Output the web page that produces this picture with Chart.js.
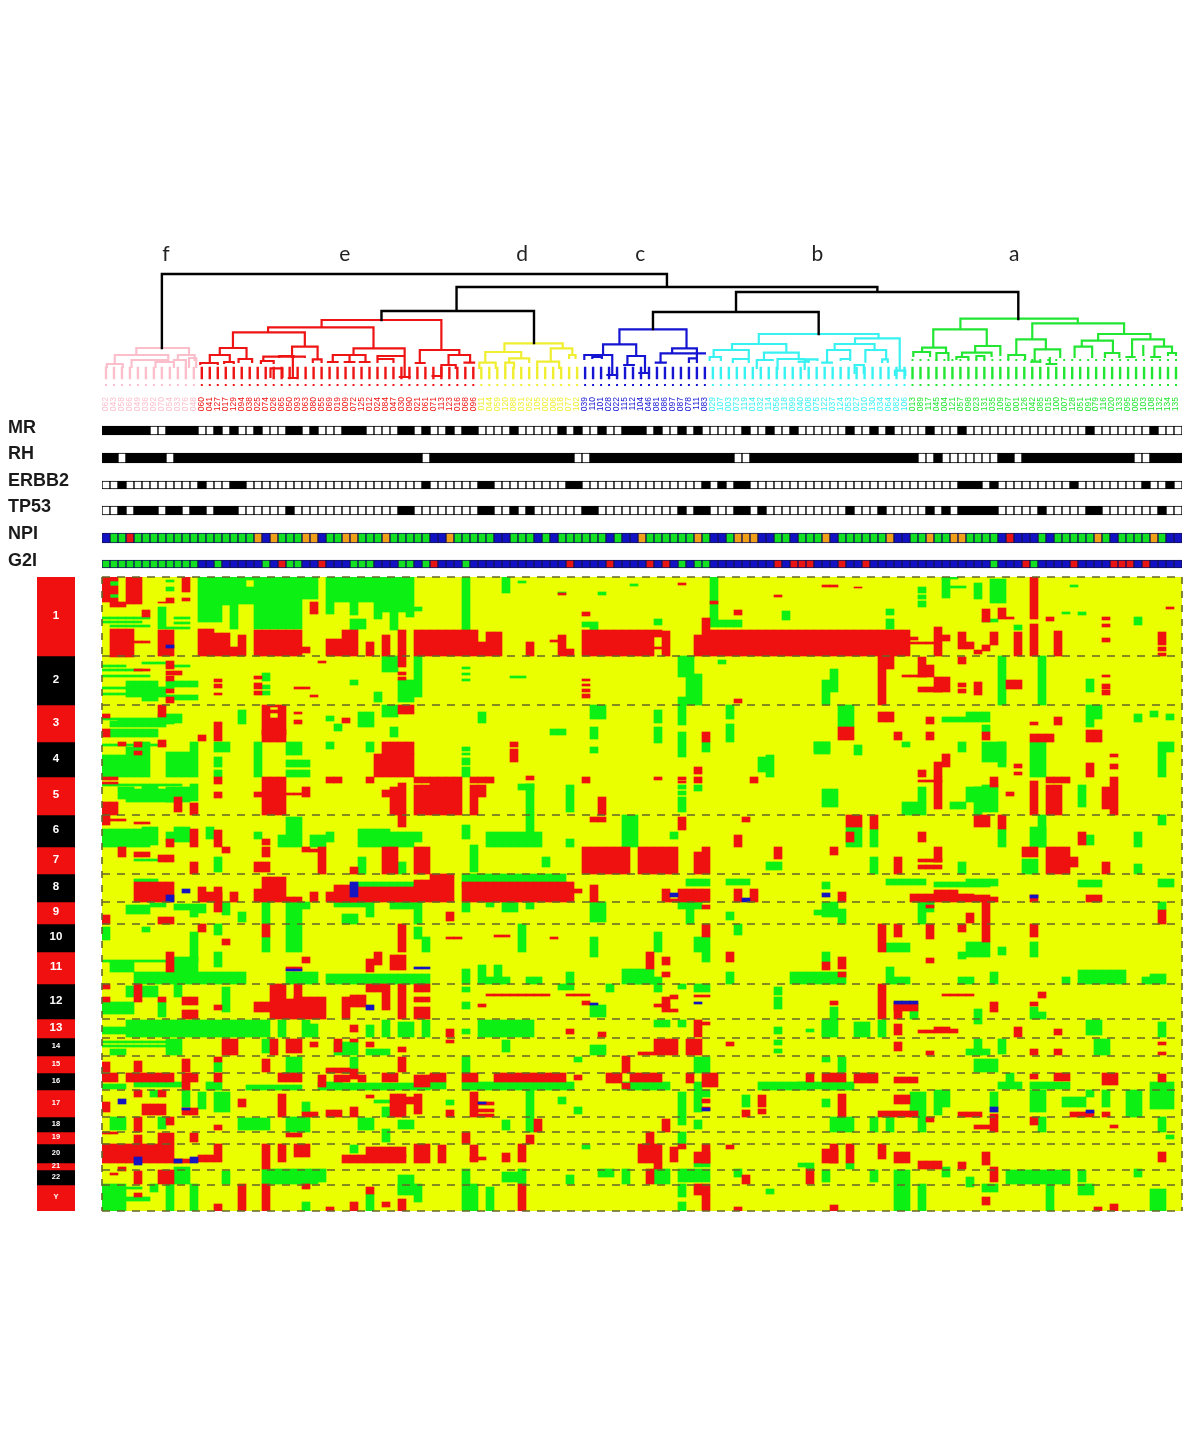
<!DOCTYPE html>
<html>
<head>
<meta charset="utf-8">
<title>Tumour clusters, genome copy number heatmap</title>
<script src="https://cdn.jsdelivr.net/npm/chart.js@4/dist/chart.umd.js"></script>
<style>
  html, body { margin: 0; background: #fff; }
  #page { position: relative; width: 1200px; height: 1447px; overflow: hidden; }
  canvas { position: absolute; display: block; }
</style>
</head>
<body>
<div id="page">
  <canvas id="treeChart" style="left:0;top:240px" width="1184" height="178"></canvas>
  <canvas id="trackChart" style="left:0;top:420px" width="1184" height="152"></canvas>
  <canvas id="chromChart" style="left:37px;top:577px" width="38" height="634"></canvas>
  <canvas id="heatChart" style="left:100px;top:575px" width="1084" height="638"></canvas>
</div>
<script>
// samples in dendrogram order
const sampleIds = ["062","043","058","066","049","036","092","070","054","033","076","048",
  "060","041","127","017","129","094","038","025","074","026","065","050","093","063","080","055","069","019","009","072","125","012","024","084","047","030","090","021","061","071","113","123","016","068","096",
  "011","044","059","120","088","031","052","105","002","006","018","077","102",
  "039","110","101","028","022","115","112","104","046","081","086","097","087","078","111","083",
  "029","107","003","073","119","014","032","114","056","118","099","040","008","075","122","037","124","053","027","010","130","034","064","082","106",
  "013","089","117","045","004","121","057","098","023","131","035","109","067","001","126","042","085","015","100","007","128","051","091","079","116","020","133","095","005","103","108","132","134","135"];
const clusterSizes = [12, 35, 13, 16, 25, 34];
const clusterColors = ["#fbbfcc", "#ee1414", "#f0ee30", "#1414d2", "#38f2f2", "#22e632"];
const clusterLetters = ["f", "e", "d", "c", "b", "a"];
const clusterLetterPos = [8, 30.4, 52.6, 67.4, 89.6, 114.25];

// dendrogram links: [left, right, height, left drop, right drop]
const blackLinks = [[7.5,70.75,121,47,108],[44.4,97.1,108,84,103],[35,54.1,84,75,52],[79.4,114.75,103,83,76],[69,89.75,83,66,61]];
const pinkLinks = [[4.3,10.9,47,40,40],[1.6,8.3,40,31,35],[0.6,2.6,31,28,28],[3.7,8.3,35,28,33],[6.7,9,33,28,28],[9.5,11.6,40,35,35],[9,10.5,35,28,28],[10.9,11.8,37,28,28]];
const redLinks = [[27.5,42.5,75,67.7,45],[20.8,34,67.7,62.7,46.7],[16.4,25.4,62.7,47,48.3],[14.75,18.1,47,40,36],[13.5,16,40,32,33],[12.3,14.5,32,31,31],[15.3,16.5,33,32,32],[17.1,18.8,36,33,33],
  [23.8,27,48.3,38,35.7],[26.4,27.5,35.7,33,33],[20.2,25.4,38.3,34,38],[19.9,21.5,34,32,32],[22.2,24,39,38,38],[23.9,23.9,38,17,17],[23.4,24.4,17,17,17],[21.1,22.6,26.7,18,18],
  [28.9,33,40,33,33],[28.3,29.5,33,33,33],[30.4,31.6,33,33,33],[31,31,40,33,33],[32.3,33.5,33,33,33],[31.5,37.9,46.7,40,39],[34.5,36.5,36,33,33],[34.5,37.9,39,36,39],[37.9,37.9,39,18,18],[37.3,38.5,18,18,18],
  [39.8,44.75,45,32,40],[39.3,40.4,32,32,32],[43.4,46.1,40,30,32.3],[42.5,44.3,30,19,27],[41.4,42.5,19,19,19],[45.4,46.6,32.3,32.3,32.3]];
const yellowLinks = [[50.4,57.7,51.7,43,46.7],[48,52.5,43,32.3,36.7],[47.25,49.3,32.3,27,27],[51,53.5,36.7,32.3,33],[50.5,51.6,32.3,27,27],[56.2,58.9,46.7,33.3,40],[54.5,57.25,33.3,27,27],[58.5,59.3,40,37,37]];
const blueLinks = [[64.8,73.2,65.7,50.7,46.7],[62.75,66.9,50.7,40,39],[60.4,63.9,40,36,36],[61.4,62.6,38,37,37],[63.9,63.9,40,20,20],[63.3,64.5,20,20,20],[65.8,68,39,30,22],[65.4,66.6,30,30,30],[67.3,68.5,22,22,22],
  [71.4,74.5,46.7,41.7,36.7],[69.95,75.5,41.7,32.3,41.7],[69.35,70.6,32.3,32.3,32.3],[73.5,74.5,36.7,33,33]];
const cyanLinks = [[82.25,97.25,61,51,56.7],[78.9,85.7,51,45,42.3],[76.6,81,45,38,36],[76.1,77.5,38,35,35],[79,81,36,33,33],[82.9,87.25,42.3,35,38],[82,84,35,27,35],[84.6,88,36,26,26],[87.25,88.5,33.3,33,33],[88,89.6,35.7,35,35],
  [94.3,99.9,56.7,51,24.3],[91.75,96.75,51,45,45],[90.8,93.7,45,32.3,36],[90.2,91.4,32.3,32.3,32.3],[92.5,93.7,36,35,35],[95.6,98.2,45,33.3,35.7],[94.25,95.4,30,22,22],[97.7,98.4,35.7,33,33],[99.3,100.6,24.3,20,20]];
const greenLinks = [[107.5,122.2,76.3,65.7,71.7],[104.1,110.8,65.7,47.3,49],[102.7,105.7,47.3,43,42],[101.6,103.7,43,39,39],[104.5,106,42,35,35],[109.35,112.5,49,42.3,40],[107.7,111.4,42.3,38,39],[107,108.5,38,36,36],[109.5,110.5,39,36,36],
  [116.5,128,71.7,55.7,61],[114.5,118.2,55.7,40,45.7],[113.5,115.6,40,36,36],[116.8,120,45.7,33.3,38],[116.4,117.5,33.3,33,33],[118.7,118.7,38,31,31],[118.3,119.5,31,31,31],
  [124.75,131.3,61,54.3,55.7],[122.7,126.6,54.3,48.3,42],[121.8,124,48.3,38,38],[125.6,127.4,42,38,38],[129,133,55.7,38,48.3],[128.3,129.3,38,38,38],[131.8,134,48.3,38,42],[131.4,132.5,38,38,38],[133.5,134.5,42,40,40],[130.4,130.4,50,40,40]];
const leafStemRange = [17, 27];
const leafDotHeight = 10;
const upperDotHeight = 35;
const upperDotCluster = 5;

// annotation tracks, black or coded cells per sample
const trackNames = ["MR", "RH", "ERBB2", "TP53", "NPI", "G2I"];
const trackNameRows = [8, 34, 61, 87, 114, 141];
const trackRows = [[6,15],[33,43],[61,69],[86,95],[113,123],[140,148]];
const mrBlack = [0,1,2,3,4,5,8,9,10,11,14,16,19,23,24,26,30,31,32,37,38,40,43,45,46,51,57,59,62,65,66,67,69,72,74,80,83,86,93,96,98,103,107,123,131];
const rhWhite = [2,8,40,59,60,79,80,102,103,105,106,107,108,109,110,111,114,129,130];
const erbb2Black = [2,12,16,17,40,47,48,58,59,75,77,79,80,107,108,109,111,121,130,133];
const tp53Black = [2,4,5,6,8,9,11,12,14,15,16,23,37,38,47,48,51,53,60,61,72,74,75,79,80,82,93,97,103,105,107,108,109,110,111,117,123,124,132];
// 0 blue, 1 green, 2 orange, 3 red
const npiClass = [0,1,1,3,1,1,1,1,1,1,1,1,1,1,1,1,1,1,1,2,0,2,1,1,1,2,2,0,1,1,2,2,1,1,1,2,1,
  1,1,1,1,0,0,2,1,1,1,1,1,0,0,1,1,1,0,1,0,1,1,1,1,1,1,0,1,0,0,2,1,1,1,1,1,1,2,1,0,0,1,2,2,2,0,0,1,1,0,
  1,1,1,2,0,1,1,1,1,1,1,2,0,0,1,1,2,1,1,2,2,1,1,1,1,0,3,0,0,0,1,0,1,1,1,1,1,2,1,0,1,1,1,1,2,1,0,0];
const g2iClass = [1,1,1,1,1,1,1,1,1,1,1,1,0,0,1,0,0,0,0,0,1,0,3,1,1,0,0,3,0,0,0,1,1,1,0,0,0,
  1,1,0,1,3,0,0,0,1,0,0,0,0,0,0,0,0,0,0,0,0,3,0,0,0,0,3,0,0,0,0,3,0,3,0,1,0,1,1,0,0,0,0,0,0,0,0,3,0,3,
  3,3,0,0,0,3,0,0,3,0,0,0,0,0,0,0,0,0,0,0,0,0,0,0,1,0,0,0,3,1,0,0,0,0,3,0,0,0,0,3,3,3,0,3,0,0,0,0];
const classColors = ["#1212c4", "#12e020", "#f0a018", "#e81414"];

// chromosome strip
const chromNames = ["1","2","3","4","5","6","7","8","9","10","11","12","13","14","15","16","17","18","19","20","21","22","Y"];
const chromSizes = [79,49,37,35,38,32,27,28,22,28,32,35,19,18,17,17,27,15,12,19,7,15,26];
const separatorRows = [0,79,128,238,297,325,347,407,442,461,479,496,513,540,555,567,593,608,634];

// heatmap blocks: [first sample, sample after last, top row, bottom row]
const heatGreen = [
  [1,2,4,9],[1,2,17,21],[7,8,30,52],[8,9,3,5],[8,9,10,14],[0,6,40,42],[0,5,44,46],[1,6,48,50],[9,11,40,42],[9,11,45,47],[8,11,50,52],
  [12,15,0,45],[15,16,0,28],[16,17,0,52],[17,18,0,27],[18,19,10,27],[19,25,0,52],[25,27,0,22],[18,19,0,3],[28,39,0,25],[28,29,25,37],[31,32,25,38],[31,32,42,53],[34,35,25,42],[35,38,25,35],[36,37,35,53],[38,39,25,40],[39,40,30,34],
  [32,33,42,52],[45,46,0,53],[50,51,0,16],[62,63,15,18],[52,53,4,6],[60,62,45,50],[61,62,50,53],[76,77,0,50],[77,80,43,50],[85,86,34,43],[66,67,7,9],[57,58,15,17],[69,70,42,48],
  [105,107,0,2],[105,106,0,21],[106,108,9,11],[109,110,6,22],[111,113,2,26],[102,103,10,16],[102,103,18,22],[102,103,24,30],[121,122,8,10],[98,99,32,38],[98,99,42,52],[120,121,35,37],[122,123,35,38],[129,130,40,48],[114,115,48,53],[110,112,42,45],
  [0,5,92,94],[0,6,98,100],[3,7,104,110],[0,9,110,112],[3,8,112,120],[0,3,116,118],[5,7,120,124],[8,12,104,110],[8,12,118,123],[5,8,85,87],[8,11,88,90],[0,3,88,90],[20,21,96,104],[20,21,108,112],[20,21,114,118],
  [35,37,79,95],[37,39,103,125],[39,40,79,120],[34,35,115,125],[31,32,103,108],[72,74,79,100],[72,74,120,128],[74,75,97,128],[73,74,100,120],[90,91,103,128],[91,92,92,115],[77,78,83,87],[112,113,79,128],[117,118,79,128],[123,124,102,115],[45,46,90,92],[45,46,96,98],[45,46,102,104],[51,53,99,101],
  [0,8,141,143],[1,8,144,150],[2,9,143,147],[7,10,137,146],[1,7,152,160],[17,18,133,147],[28,29,139,144],[29,30,147,154],[32,34,135,150],[35,37,128,140],[36,37,150,160],
  [0,3,178,200],[4,6,165,200],[8,11,175,200],[11,12,165,200],[14,16,165,175],[14,15,180,190],[14,15,193,200],[19,20,165,200],[23,25,165,178],[23,26,183,190],[23,26,193,200],[28,29,165,172],[33,34,165,175],[3,4,170,200],[0,8,167,169],
  [0,10,207,209],[5,7,209,222],[2,4,210,222],[3,9,212,225],[8,11,210,225],[11,12,207,224],[45,46,170,174],[45,46,176,178],[45,46,181,188],[45,46,190,200],[61,63,128,142],[61,62,150,162],[61,62,170,176],[69,70,133,146],[69,70,150,166],[72,73,128,148],[72,73,155,180],[75,76,165,175],[78,79,128,142],[78,79,147,165],[89,91,165,175],[83,84,178,200],[82,83,180,195],[56,58,152,158],[47,48,135,146],
  [92,94,128,150],[89,91,165,177],[94,95,168,178],[90,92,212,230],[100,101,165,170],[108,111,135,145],[105,108,140,145],[110,113,165,185],[112,113,165,190],[110,111,148,155],[107,108,165,175],[116,118,165,200],[132,133,165,200],[133,134,165,175],[123,125,128,142],[123,124,142,150],[129,130,137,145],[131,132,134,140],[133,134,137,143],
  [100,103,225,238],[102,103,210,225],[108,110,210,225],[110,112,208,235],[109,110,210,238],[106,108,225,232],[122,123,208,230],[53,54,207,238],[52,54,207,213],[58,59,208,235],[72,73,208,212],[72,73,214,218],[72,73,220,235],[74,75,208,214],
  [0,6,252,270],[5,7,250,268],[8,11,255,265],[9,11,250,256],[13,14,250,262],[19,20,255,262],[23,25,240,258],[22,25,258,270],[26,28,258,270],[28,29,255,265],[32,36,252,270],[36,39,255,270],[39,40,255,265],[4,7,282,284],[14,15,280,295],[32,33,280,297],[37,38,285,297],
  [65,67,238,270],[45,46,248,262],[46,47,268,295],[48,53,255,270],[53,54,238,265],[53,55,255,270],[71,72,255,262],[58,59,262,270],[55,56,280,290],[83,85,285,293],[93,95,250,270],[96,97,252,270],[112,113,252,270],[117,118,238,270],[116,118,250,270],[115,117,282,297],[96,97,280,297],[107,108,285,297],[129,130,287,297],[123,124,258,268],[129,130,255,270],[132,133,238,248],
  [45,58,297,310],[4,7,302,305],[32,41,305,311],[73,76,302,309],[78,81,302,308],[90,91,305,312],[98,103,302,308],[104,111,305,310],[108,112,302,309],[122,125,303,310],[132,134,302,310],
  [3,6,328,337],[6,8,326,330],[9,11,327,333],[11,12,327,340],[12,13,327,336],[15,16,326,338],[17,18,335,345],[20,21,325,347],[23,25,325,347],[25,26,325,332],[29,33,325,330],[33,34,325,340],[30,32,337,347],[36,39,325,332],[39,40,325,347],
  [45,46,326,335],[50,52,325,335],[48,49,325,330],[53,54,325,332],[61,63,325,345],[72,75,325,332],[73,74,332,347],[78,79,335,343],[89,90,333,338],[90,92,325,340],[92,93,332,347],[102,104,325,335],[102,103,335,347],[132,133,325,333],
  [0,1,350,363],[5,6,350,355],[11,12,355,385],[14,15,347,358],[14,15,375,390],[20,21,360,375],[23,25,347,375],[9,12,380,395],[9,18,395,407],[1,4,385,395],[4,9,395,407],[0,9,383,385],[23,27,395,407],[28,41,397,407],[39,40,350,362],[40,41,360,375],
  [52,53,347,375],[45,46,392,407],[47,48,388,407],[48,50,400,407],[49,50,388,407],[50,51,400,407],[61,62,360,380],[65,69,392,407],[66,70,400,407],[69,70,355,375],[58,59,395,407],[53,55,400,407],[74,76,360,375],[75,76,375,385],[78,79,395,407],[79,80,347,358],[86,93,395,407],[90,91,375,385],
  [98,101,366,375],[98,99,390,407],[99,101,400,407],[108,111,365,380],[107,108,375,382],[107,109,400,407],[111,112,395,407],[116,117,365,380],[112,113,370,378],[122,128,393,407],[120,121,400,407],[130,131,400,407],[131,133,397,407],
  [0,4,425,437],[3,7,409,420],[7,8,425,440],[9,10,407,420],[15,16,410,435],[3,21,443,460],[0,3,450,457],[22,23,443,460],[25,26,443,460],[26,27,447,460],[33,34,448,460],[35,36,443,460],[37,39,445,460],[40,41,443,460],
  [45,46,410,415],[45,46,425,432],[57,59,407,413],[63,64,407,415],[61,63,428,440],[69,70,407,415],[72,73,407,412],[74,76,407,415],[84,85,420,432],[84,85,410,418],[47,54,443,460],[45,46,452,457],[69,71,443,450],[72,73,443,450],[90,91,443,460],[84,85,450,457],[88,89,452,455],
  [101,102,427,442],[91,92,430,443],[90,92,443,460],[94,96,445,460],[97,98,443,460],[109,110,432,447],[123,125,443,458],[132,133,445,460],[116,117,430,442],[117,118,435,442],
  [0,9,464,466],[0,9,468,470],[1,3,472,478],[8,10,462,478],[20,21,462,476],[29,32,465,478],[33,36,472,478],[14,15,485,495],[23,25,480,496],[31,32,480,492],[45,46,479,496],[50,51,463,475],[61,63,468,478],[74,76,480,496],[84,85,463,468],[84,85,472,476],[59,60,480,485],
  [109,110,462,478],[108,111,472,478],[112,113,462,477],[124,126,462,478],[109,112,482,495],[92,93,480,495],[90,91,480,485],
  [18,25,508,513],[27,30,505,513],[30,41,506,513],[0,3,507,512],[4,10,505,510],[13,15,505,513],[41,43,505,512],[45,59,505,513],[65,71,505,513],[74,75,505,513],[82,89,505,513],[87,90,505,512],[90,94,505,513],[112,115,505,512],[113,114,496,505],[116,121,505,512],[131,134,505,513],
  [6,7,513,520],[10,11,513,530],[12,13,515,532],[14,16,515,535],[25,26,525,535],[34,36,523,526],[35,36,530,540],[43,44,523,528],[53,54,513,555],[57,58,520,527],[59,60,530,537],[72,73,515,540],[74,75,513,535],[75,76,513,520],[80,81,518,530],
  [90,91,522,530],[101,103,515,540],[104,106,513,530],[104,105,530,538],[111,112,515,535],[116,118,513,535],[120,123,520,530],[123,124,513,520],[125,126,513,530],[128,130,513,540],[131,134,513,532],
  [1,3,540,553],[7,8,540,552],[17,21,541,553],[23,26,540,555],[32,34,541,553],[37,39,543,552],[35,36,552,565],[50,51,543,553],[72,73,540,548],[72,73,555,567],[74,75,543,552],
  [91,94,540,555],[96,97,540,555],[98,99,540,555],[102,103,540,555],[117,118,540,555],[132,133,540,555],[133,134,558,562],
  [31,32,568,576],[60,61,568,572],[74,76,586,590],[88,89,586,592],[87,88,586,590],[93,94,586,592],
  [9,11,590,607],[20,27,592,607],[27,28,592,605],[15,16,594,607],[37,39,598,618],[45,46,592,607],[52,53,592,607],[50,52,595,605],[62,64,592,600],[65,66,592,607],[69,71,592,607],[72,76,592,605],[79,80,592,600],[58,59,598,607],
  [90,91,593,605],[113,121,593,607],[122,123,593,605],[99,101,593,634],[96,97,593,605],[108,109,600,610],[105,106,590,600],[129,130,592,600],
  [0,3,607,634],[8,9,607,634],[11,12,607,634],[3,6,620,624],[3,5,610,612],[6,7,607,615],[25,26,625,634],[33,34,617,634],[37,39,607,617],[39,40,607,625],[45,47,607,634],[48,49,610,634],[72,73,607,620],[72,73,625,634],[83,84,612,617],
  [102,103,607,634],[110,112,607,615],[122,124,607,618],[118,119,607,634],[131,133,612,634]
];
const heatRed = [
  [0,1,0,25],[1,2,0,4],[1,2,9,17],[1,2,21,25],[3,5,0,27],[1,3,25,30],[1,4,52,80],[4,6,64,66],[7,9,53,79],[5,6,33,40],[10,11,0,15],[10,11,21,24],[8,9,21,25],[7,9,25,26],
  [12,14,52,79],[14,16,56,79],[16,17,70,79],[17,18,58,79],[26,27,25,37],[19,25,53,79],[25,26,70,76],[28,30,62,79],[30,32,53,79],[33,34,65,79],[35,36,58,79],[37,38,53,79],[39,47,53,79],[47,48,65,79],[48,50,55,79],
  [53,54,65,79],[57,58,58,79],[58,59,72,79],[56,57,63,65],[60,69,53,79],[69,70,53,60],[69,70,70,72],[70,71,54,79],[74,75,58,79],[75,76,41,79],[76,101,53,79],[76,77,24,27],[79,80,33,38],[57,58,16,18],[60,61,35,39],[72,73,6,8],[84,85,18,20],
  [101,102,60,63],[104,105,50,79],[105,106,58,64],[101,104,65,67],[107,108,55,72],[108,109,65,72],[109,110,73,77],[110,111,68,74],[111,112,55,68],[110,111,32,45],[112,113,31,42],[113,114,40,42],[114,115,55,79],[116,117,0,42],[116,117,47,79],[118,119,40,44],[119,120,54,79],[125,126,40,43],[125,126,47,50],[125,126,61,65],[132,133,55,68],[132,133,70,74],[132,133,76,79],[94,95,10,11],[90,92,8,10],[133,134,30,32],
  [8,9,84,92],[8,10,94,98],[8,9,99,104],[8,9,112,116],[8,9,120,126],[14,15,102,105],[14,15,107,111],[14,15,116,118],[19,20,99,102],[19,20,106,112],[19,20,114,118],[37,38,79,90],[37,38,95,98],[37,38,100,103],[4,6,92,94],[24,26,110,112],[26,27,118,120],[27,28,84,86],
  [60,61,102,104],[60,61,107,109],[60,61,112,115],[60,61,117,121],[79,80,122,126],[97,98,79,128],[98,99,79,92],[102,103,80,100],[103,104,88,100],[104,106,100,115],[102,105,110,115],[107,108,80,87],[107,108,106,110],[107,108,112,116],[109,110,105,118],[113,115,103,112],[125,126,98,100],[125,126,107,112],[125,126,113,118],[100,103,98,100],
  [7,8,128,140],[0,1,137,141],[0,1,152,160],[7,8,163,170],[12,13,158,164],[14,15,145,164],[20,21,128,158],[22,23,128,158],[21,22,128,130],[21,22,133,136],[21,22,141,158],[20,23,153,165],[24,25,143,147],[24,25,135,137],[30,31,141,146],[37,39,128,137],[34,39,177,200],[35,39,165,177],
  [2,3,165,169],[4,5,165,170],[4,5,174,178],[51,52,165,170],[51,52,172,185],[75,76,155,165],[92,94,150,163],[97,99,135,145],[99,100,155,163],[103,104,140,147],[103,104,155,163],[110,111,155,163],[116,119,157,165],[116,117,145,148],[119,120,140,148],[105,106,177,190],[104,105,185,200],[102,103,193,200],[114,115,187,191],[114,115,195,198],[123,124,186,200],[126,127,177,180],[126,127,187,192],[123,125,153,165],
  [0,2,200,203],[0,2,205,207],[0,2,225,238],[9,10,220,235],[11,12,226,238],[14,15,200,207],[14,15,215,221],[20,23,200,238],[19,20,215,220],[25,26,210,220],[23,25,216,218],[28,30,200,206],[33,34,200,206],[36,37,210,238],[37,38,206,238],[35,36,213,220],[39,41,208,238],[39,41,200,206],
  [41,45,200,238],[46,49,200,206],[46,47,208,238],[47,48,208,220],[60,61,200,206],[62,63,220,238],[72,73,200,203],[72,73,204,206],[74,75,190,197],[74,75,200,206],[81,82,200,206],[69,70,200,203],[53,54,199,203],
  [116,117,204,238],[118,121,200,206],[118,120,208,238],[125,126,210,232],[126,127,200,238],[104,105,200,232],[111,112,200,210],[113,114,215,219],[102,105,203,205],
  [0,1,238,248],[1,3,242,244],[4,6,245,247],[11,12,252,270],[14,15,253,270],[15,16,270,276],[8,9,262,270],[20,21,262,268],[25,26,270,275],[37,38,238,250],[27,28,270,297],[26,27,272,275],[2,3,270,280],[4,6,275,280],[7,9,278,285],[11,12,285,297],[20,21,270,280],[19,21,285,295],[31,32,290,297],[35,37,270,297],[39,41,270,297],
  [60,66,270,297],[67,72,270,297],[72,73,240,253],[75,76,270,297],[74,75,275,297],[79,80,258,270],[80,81,240,245],[61,63,240,245],[84,85,270,282],[93,95,238,250],[96,97,238,252],[109,111,238,250],[112,113,238,252],[115,117,270,280],[118,121,270,297],[121,122,280,290],[99,100,280,297],[102,105,288,292],[102,105,282,285],[102,103,255,265],[104,105,270,285],[125,126,285,297],[91,92,270,278],[122,123,255,268],[93,94,255,265],
  [41,44,297,325],[45,59,305,325],[4,9,305,325],[12,13,310,325],[13,15,315,325],[14,15,310,325],[16,17,315,325],[19,20,312,325],[20,23,300,325],[23,25,320,325],[26,27,315,325],[28,32,315,325],[29,32,308,325],[32,41,310,325],[39,41,303,310],[61,62,308,325],[59,60,312,316],[70,71,312,325],[71,72,322,325],[72,76,312,325],[79,80,312,325],[81,82,312,325],
  [92,93,315,325],[101,109,317,325],[104,107,313,320],[109,111,318,325],[111,112,320,325],[116,117,318,325],[123,125,318,325],
  [0,1,338,347],[7,9,340,347],[14,15,325,335],[43,44,335,344],[75,76,328,332],[108,109,336,346],[110,111,325,347],[132,133,333,347],[103,104,328,331],
  [12,13,347,355],[15,16,362,368],[20,21,347,360],[8,9,375,395],[25,26,380,386],[23,25,390,393],[34,35,375,388],[36,38,378,393],[37,38,347,375],[33,34,382,395],[68,69,375,392],[70,71,380,388],[70,71,395,400],[75,76,347,360],[78,79,375,385],[92,93,380,392],[92,93,395,400],[90,91,385,393],
  [97,98,347,375],[99,100,347,360],[103,104,347,362],[103,104,381,386],[107,108,347,355],[110,111,347,365],[116,117,347,360],[43,45,360,362],[49,51,358,360],[56,57,360,362],
  [0,1,407,412],[0,1,420,425],[4,5,407,425],[7,8,420,425],[10,12,420,428],[10,12,433,442],[14,15,428,433],[19,22,425,435],[22,23,407,442],[21,22,407,442],[24,25,407,422],[24,28,420,442],[23,24,422,442],[30,31,420,442],[31,33,418,430],[33,35,407,415],[35,36,407,433],[37,38,407,442],[39,41,407,415],[39,41,420,425],[39,41,430,442],
  [48,56,417,419],[47,48,427,430],[60,61,424,428],[69,71,427,430],[70,71,420,435],[71,72,418,422],[71,72,432,435],[74,76,418,420],[58,61,417,419],[97,98,407,442],[99,100,425,442],[99,102,427,434],[91,92,424,428],[111,112,425,435],[117,118,415,421],[116,117,425,429],[105,109,417,419],
  [31,32,448,455],[43,44,452,460],[58,59,452,457],[62,63,455,460],[74,75,443,460],[75,76,445,448],[99,100,447,458],[104,106,450,456],[106,107,452,456],[102,104,453,456],[114,115,450,460],[119,120,452,458],
  [15,17,462,478],[21,22,462,478],[23,25,462,476],[26,27,465,470],[29,30,462,475],[31,32,462,465],[33,34,465,470],[37,38,470,475],[0,1,485,495],[4,5,484,495],[10,11,482,495],[14,15,480,485],[20,21,482,495],[31,32,492,496],[28,31,491,496],[37,38,480,495],
  [43,44,463,466],[69,72,462,478],[73,75,462,478],[67,69,475,478],[65,66,479,496],[78,79,465,469],[99,100,465,474],[103,104,474,478],[116,117,472,478],[119,120,472,478],[132,133,465,468],[132,133,475,478],
  [0,2,496,505],[3,9,496,505],[10,12,496,505],[10,11,505,513],[14,15,496,505],[22,25,496,505],[27,28,498,510],[29,31,498,505],[31,32,495,502],[32,33,498,505],[35,37,496,505],[39,41,498,510],
  [41,43,496,505],[45,47,496,505],[49,58,496,505],[59,60,498,503],[63,65,496,506],[65,66,506,512],[66,70,496,505],[73,74,496,506],[75,77,496,510],[88,89,496,505],[90,93,496,505],[94,97,496,506],[99,102,500,506],[116,117,497,502],[119,121,496,504],[125,127,496,508],[132,133,497,505],
  [0,1,525,535],[4,5,513,520],[5,8,527,538],[7,8,513,520],[10,12,531,538],[17,18,522,530],[22,23,517,540],[25,27,535,540],[28,30,533,540],[31,32,530,540],[33,34,518,521],[36,38,517,540],[38,39,520,527],[39,40,517,537],
  [46,47,515,540],[43,44,533,540],[47,49,525,528],[47,49,532,535],[47,49,537,540],[75,76,522,526],[75,76,530,533],[80,81,533,540],[82,83,518,530],[82,83,532,537],[92,93,517,540],[99,101,518,527],[97,102,534,540],[107,110,535,540],[111,112,537,540],[121,124,535,540],[125,126,535,540],
  [4,5,540,555],[8,9,540,548],[14,15,548,553],[4,5,558,567],[0,2,555,557],[7,9,556,567],[11,12,556,565],[23,25,556,560],[54,55,542,555],[53,54,558,567],[70,71,542,555],[68,69,555,567],[45,46,555,567],[103,104,540,545],[111,112,540,555],[109,111,548,552],[116,117,540,548],[126,127,548,551],
  [0,9,567,586],[9,11,582,586],[12,14,578,585],[14,15,567,585],[20,21,567,592],[22,23,567,585],[24,26,567,580],[30,38,578,586],[33,38,570,580],[39,41,567,586],[7,9,593,607],[4,5,594,607],[1,2,596,598],[2,3,590,594],
  [42,43,568,586],[46,47,568,585],[46,48,580,583],[50,51,576,585],[52,53,567,585],[67,70,567,586],[71,72,570,585],[72,73,567,572],[74,76,575,586],[75,76,567,586],[69,70,586,592],[78,79,568,572],[68,69,592,607],[80,81,598,607],[88,89,592,607],
  [90,92,572,586],[91,92,567,586],[93,94,567,586],[97,98,567,582],[99,101,575,586],[102,105,584,592],[107,108,585,592],[110,111,575,588],[111,112,590,605],[132,133,575,585],
  [4,5,616,620],[17,18,607,634],[20,21,607,634],[25,26,607,612],[14,15,627,634],[28,29,630,634],[31,32,625,634],[33,34,610,617],[35,36,625,630],[37,38,622,634],[52,53,607,634],[74,76,607,618],[75,76,618,634],[79,80,630,634],[110,111,620,628],[91,92,628,634],[124,125,630,634],[126,127,627,634]
];
const heatBlue = [[8,9,68,71],[10,11,312,316],[8,9,318,325],[31,32,305,320],[71,72,316,320],[80,81,321,325],[90,91,316,320],[116,117,318,321],[39,41,390,392],[23,25,392,394],[33,34,428,433],[61,62,426,428],[74,75,425,427],[99,102,424,427],[2,3,522,527],[10,11,531,533],[47,48,525,527],[75,76,531,534],[111,112,530,535],[123,124,533,536],[4,5,580,588],[9,10,582,586],[11,12,580,586]];

const sampleLabels = sampleIds.map((id, i) => i + ":" + id);
const sampleCount = sampleIds.length;
const rowCount = chromSizes.reduce((a, b) => a + b, 0);

function clusterOf(s) {
  let end = 0;
  for (let c = 0; c < clusterSizes.length; c++) {
    end += clusterSizes[c];
    if (s < end) return c;
  }
  return clusterSizes.length - 1;
}

function linkPath(links) {
  const pts = [];
  links.forEach(l => {
    pts.push({x: l[0], y: l[3]}, {x: l[0], y: l[2]}, {x: l[1], y: l[2]}, {x: l[1], y: l[4]}, {x: l[1], y: NaN});
  });
  return pts;
}

function treeLine(points, color, width) {
  return {data: points, borderColor: color, borderWidth: width, showLine: true, pointRadius: 0, spanGaps: false, borderCapStyle: "square", clip: false};
}

const stemPoints = clusterSizes.map(() => []);
const dotPoints = clusterSizes.map(() => []);
sampleIds.forEach((id, s) => {
  const c = clusterOf(s);
  stemPoints[c].push({x: s + 0.5, y: leafStemRange[0]}, {x: s + 0.5, y: leafStemRange[1]}, {x: s + 0.5, y: NaN});
  dotPoints[c].push({x: s + 0.5, y: leafDotHeight});
  if (c === upperDotCluster) dotPoints[c].push({x: s + 0.5, y: upperDotHeight});
});

const treeDatasets = [treeLine(linkPath(blackLinks), "#000000", 2.4)];
[pinkLinks, redLinks, yellowLinks, blueLinks, cyanLinks, greenLinks].forEach((links, c) => {
  treeDatasets.push(treeLine(linkPath(links), clusterColors[c], 2.2));
  treeDatasets.push(treeLine(stemPoints[c], clusterColors[c], 2.4));
  treeDatasets.push({data: dotPoints[c], pointStyle: "rect", pointRadius: 1.4, pointBackgroundColor: clusterColors[c], pointBorderWidth: 0, showLine: false});
});

function noAxisPadding(axis) {
  axis.paddingLeft = 0;
  axis.paddingRight = 0;
  axis.paddingTop = 0;
  axis.paddingBottom = 0;
}

new Chart(document.getElementById("treeChart"), {
  type: "scatter",
  data: {datasets: treeDatasets},
  options: {
    responsive: false, animation: false,
    layout: {padding: {left: 102, right: 2}},
    plugins: {legend: {display: false}, tooltip: {enabled: false}},
    scales: {
      x: {
        type: "linear", min: 0, max: sampleCount, position: "bottom",
        grid: {display: false, drawTicks: false}, border: {display: false},
        afterBuildTicks: axis => { axis.ticks = sampleIds.map((id, s) => ({value: s + 0.5})); },
        afterFit: axis => { axis.height = 23; noAxisPadding(axis); },
        ticks: {
          autoSkip: false, minRotation: 90, maxRotation: 90, padding: 2,
          font: {family: "'Liberation Sans'", size: 8.5},
          color: ctx => clusterColors[clusterOf(ctx.index)],
          callback: (v, i) => sampleIds[i]
        }
      },
      xTop: {
        type: "linear", axis: "x", min: 0, max: sampleCount, position: "top",
        grid: {display: false, drawTicks: false}, border: {display: false},
        afterBuildTicks: axis => { axis.ticks = clusterLetterPos.map(v => ({value: v})); },
        afterFit: axis => { axis.height = 30; noAxisPadding(axis); },
        ticks: {autoSkip: false, maxRotation: 0, padding: 3, color: "#222222", font: {family: "Lato", size: 21}, callback: (v, i) => clusterLetters[i]}
      },
      y: {display: false, min: 0, max: 125}
    }
  }
});

function blackIf(list) {
  return sampleIds.map((id, s) => list.includes(s) ? "#000000" : "#ffffff");
}
const trackColors = [
  blackIf(mrBlack),
  sampleIds.map((id, s) => rhWhite.includes(s) ? "#ffffff" : "#000000"),
  blackIf(erbb2Black),
  blackIf(tp53Black),
  npiClass.map(k => classColors[k]),
  g2iClass.map(k => classColors[k])
];

new Chart(document.getElementById("trackChart"), {
  type: "bar",
  data: {
    labels: sampleLabels,
    datasets: trackNames.map((name, t) => ({
      label: name,
      data: sampleIds.map(() => trackRows[t]),
      backgroundColor: trackColors[t],
      borderColor: t > 3 ? "#14145a" : "#000000",
      borderWidth: 1,
      borderSkipped: false,
      grouped: false,
      barPercentage: 1,
      categoryPercentage: 1
    }))
  },
  options: {
    responsive: false, animation: false,
    layout: {padding: {left: 8, right: 2}},
    plugins: {legend: {display: false}, tooltip: {enabled: false}},
    scales: {
      x: {display: false},
      y: {
        min: 0, max: 152, reverse: true,
        grid: {display: false, drawTicks: false}, border: {display: false},
        afterFit: axis => { axis.width = 94; noAxisPadding(axis); },
        afterBuildTicks: axis => { axis.ticks = trackNameRows.map(v => ({value: v})); },
        ticks: {autoSkip: false, crossAlign: "far", color: "#1a1a1a", font: {family: "'Liberation Sans'", size: 18, weight: "bold"}, callback: (v, i) => trackNames[i]}
      }
    }
  }
});

const chromLabels = {
  id: "chromLabels",
  afterDatasetsDraw(chart) {
    const {ctx, scales: {y}, chartArea} = chart;
    let start = 0;
    ctx.save();
    ctx.fillStyle = "#ffffff";
    ctx.textAlign = "center";
    ctx.textBaseline = "middle";
    chromNames.forEach((name, i) => {
      const big = i < 13;
      ctx.font = "bold " + (big ? 11.5 : 7.5) + "px 'Liberation Sans'";
      ctx.fillText(name, (chartArea.left + chartArea.right) / 2, y.getPixelForValue(start + chromSizes[i] / 2) - 1);
      start += chromSizes[i];
    });
    ctx.restore();
  }
};

new Chart(document.getElementById("chromChart"), {
  type: "bar",
  data: {
    labels: ["chromosome"],
    datasets: chromNames.map((name, i) => ({
      label: name,
      data: [chromSizes[i]],
      backgroundColor: i % 2 ? "#000000" : "#f01010",
      barPercentage: 1,
      categoryPercentage: 1
    }))
  },
  options: {
    responsive: false, animation: false,
    plugins: {legend: {display: false}, tooltip: {enabled: false}},
    scales: {
      x: {display: false, stacked: true},
      y: {display: false, stacked: true, reverse: true, min: 0, max: rowCount}
    }
  },
  plugins: [chromLabels]
});

function blockBars(blocks) {
  const bars = [];
  blocks.forEach(b => {
    for (let s = b[0]; s < b[1]; s++) bars.push({x: sampleLabels[s], y: [b[2], b[3]]});
  });
  return bars;
}
function heatLayer(blocks, color, order) {
  return {type: "bar", data: blockBars(blocks), backgroundColor: color, borderWidth: 0, grouped: false, barPercentage: 1, categoryPercentage: 1, order: order};
}
function dashLine(points, dash) {
  return {type: "line", xAxisID: "xPos", data: points, borderColor: "#66662a", borderWidth: 1.6, borderDash: dash, pointRadius: 0, clip: false, order: 0};
}

new Chart(document.getElementById("heatChart"), {
  type: "bar",
  data: {
    labels: sampleLabels,
    datasets: [
      ...separatorRows.map(r => dashLine([{x: 0, y: r}, {x: sampleCount, y: r}], [8, 7])),
      dashLine([{x: 0, y: 0}, {x: 0, y: rowCount}], [7, 7]),
      dashLine([{x: sampleCount, y: 0}, {x: sampleCount, y: rowCount}], [7, 7]),
      heatLayer(heatBlue, "#1414c0", 1),
      heatLayer(heatRed, "#ef1010", 2),
      heatLayer(heatGreen, "#0cf014", 3),
      heatLayer([[0, sampleCount, 0, rowCount]], "#eaff00", 4)
    ]
  },
  options: {
    responsive: false, animation: false,
    layout: {padding: 2},
    plugins: {legend: {display: false}, tooltip: {enabled: false}},
    scales: {
      x: {display: false},
      xPos: {type: "linear", axis: "x", display: false, offset: false, min: 0, max: sampleCount},
      y: {display: false, min: 0, max: rowCount, reverse: true}
    }
  }
});
</script>
</body>
</html>
